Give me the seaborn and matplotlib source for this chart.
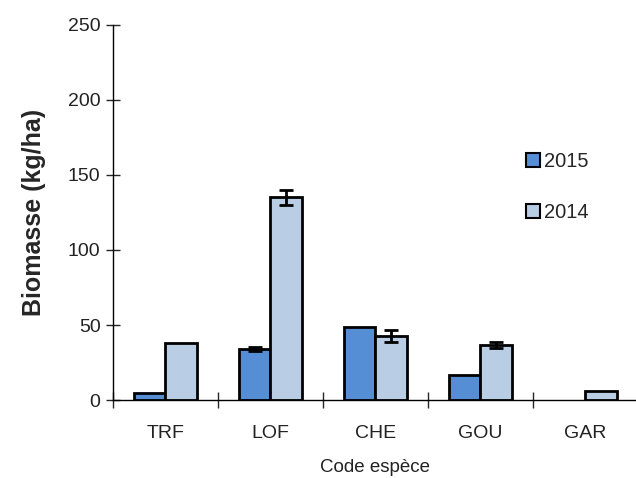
import matplotlib
matplotlib.use("Agg")
import matplotlib.pyplot as plt
import seaborn as sns
import pandas as pd
import numpy as np

categories = ["TRF", "LOF", "CHE", "GOU", "GAR"]
years = ["2015", "2014"]
vals_2015 = [5, 34, 49, 17, 0]
vals_2014 = [38, 135, 43, 37, 6]
err_2015 = [0, 1.5, 0, 0, 0]
err_2014 = [0, 5, 4, 2, 0]

df = pd.DataFrame({
    "cat": categories * 2,
    "year": [years[0]] * 5 + [years[1]] * 5,
    "val": vals_2015 + vals_2014,
})

sns.set_style("white")
plt.rcParams["font.family"] = ["Liberation Sans", "DejaVu Sans"]

fig = plt.figure(figsize=(6.36, 4.78), dpi=100)
ax = fig.add_axes([0.1777, 0.163, 0.825, 0.785])

sns.barplot(data=df, x="cat", y="val", hue="year", order=categories,
            hue_order=years, palette=["#558ED5", "#B9CDE5"], saturation=1,
            edgecolor="black", linewidth=2, width=0.6, ax=ax, errorbar=None)

errs = {years[0]: err_2015, years[1]: err_2014}
vals = {years[0]: vals_2015, years[1]: vals_2014}
for cont, yr in zip(ax.containers, years):
    for p in cont.patches:
        if p.get_height() == 0:
            p.set_linewidth(0)
    xs = [p.get_x() + p.get_width() / 2 for p in cont.patches]
    e = np.array(errs[yr])
    v = np.array(vals[yr])
    mask = e > 0
    ax.errorbar(np.array(xs)[mask], v[mask], yerr=e[mask], fmt="none",
                ecolor="black", elinewidth=2, capsize=5, capthick=2)

ax.set_xlim(-0.5, 4.5)
ax.set_ylim(0, 250)
ax.set_yticks([0, 50, 100, 150, 200, 250])
ax.tick_params(axis="y", direction="inout", length=10, width=1, labelsize=14,
               pad=4, left=True, labelcolor="#222222")
ax.set_xticks(np.arange(-0.5, 4.6, 1), minor=True)
ax.tick_params(axis="x", which="minor", direction="inout", length=12, width=1, bottom=True)
ax.tick_params(axis="x", which="major", length=0, labelsize=14, pad=18, labelcolor="#222222")

for s in ["top", "right"]:
    ax.spines[s].set_visible(False)
for s in ["left", "bottom"]:
    ax.spines[s].set_color("black")
    ax.spines[s].set_linewidth(1)

ax.set_ylabel("Biomasse (kg/ha)", fontsize=18, fontweight="bold", labelpad=16)
ax.set_xlabel("Code espèce", fontsize=13.5, labelpad=12, color="#222222")

leg = ax.legend(loc="upper left", bbox_to_anchor=(0.787, 0.662), frameon=False,
                fontsize=14.5, handlelength=0.7, handleheight=0.7,
                handletextpad=0.2, labelspacing=1.6, borderaxespad=0, borderpad=0)
for h in leg.legend_handles:
    h.set_linewidth(1.5)

fig.savefig("out.png", dpi=100)
